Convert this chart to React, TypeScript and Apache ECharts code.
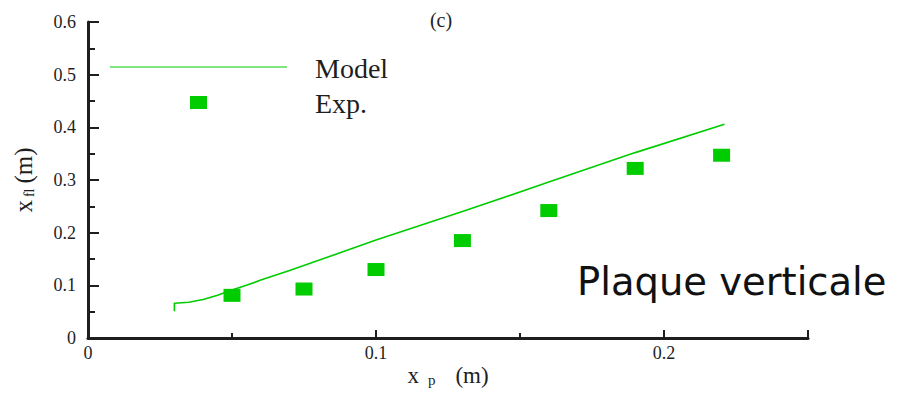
import React, { useEffect, useRef } from "react";
import * as echarts from "echarts";

// Model curve (x_p, x_fl) in metres
const modelX = [0.03, 0.03, 0.035, 0.04, 0.045, 0.05, 0.055, 0.06, 0.07, 0.1, 0.13, 0.16, 0.19, 0.221];
const modelY = [0.051, 0.066, 0.068, 0.073, 0.081, 0.091, 0.100, 0.110, 0.128, 0.186, 0.240, 0.296, 0.352, 0.406];
// Experimental points
const expX = [0.05, 0.075, 0.1, 0.13, 0.16, 0.19, 0.22];
const expY = [0.081, 0.093, 0.130, 0.185, 0.242, 0.322, 0.347];

const seriesNames = ["Model", "Exp."];
const panelLabel = "(c)";
const annotation = "Plaque verticale";

const GREEN = "#00cc00";
const INK = "#1e1e1e";
const SERIF = "Liberation Serif";

export default function App() {
  const ref = useRef<HTMLDivElement>(null);
  useEffect(() => {
    if (!ref.current) return;
    const chart = echarts.init(ref.current, undefined, { renderer: "svg" });
    const axisCommon = {
      type: "value" as const,
      axisLine: { show: true, lineStyle: { color: INK, width: 3 } },
      splitLine: { show: false },
    };
    chart.setOption({
      animation: false,
      backgroundColor: "#fff",
      textStyle: { fontFamily: SERIF },
      grid: { left: 88, right: 98, top: 22, bottom: 59 },
      xAxis: {
        ...axisCommon,
        min: 0,
        max: 0.25,
        interval: 0.1,
        axisTick: { inside: true, length: 8, lineStyle: { color: INK, width: 2 } },
        minorTick: { show: true, splitNumber: 2, length: 5, lineStyle: { color: INK, width: 2 } },
        axisLabel: {
          showMaxLabel: false,
          margin: 6,
          color: INK,
          fontFamily: SERIF,
          fontSize: 18,
        },
        name: "{m|x}{s|p}{m|(m)}",
        nameLocation: "middle",
        nameMoveOverlap: false,
        nameGap: 26,
        nameTextStyle: {
          rich: {
            m: { fontFamily: SERIF, fontSize: 23, color: INK, verticalAlign: "top", lineHeight: 23 },
            s: { fontFamily: SERIF, fontSize: 15, color: INK, verticalAlign: "bottom", lineHeight: 15, padding: [12, 20, 0, 9] },
          },
        },
      },
      yAxis: {
        ...axisCommon,
        min: 0,
        max: 0.6,
        interval: 0.1,
        axisTick: { inside: true, length: 11, lineStyle: { color: INK, width: 2 } },
        minorTick: { show: true, splitNumber: 2, length: 7, lineStyle: { color: INK, width: 2 } },
        axisLabel: {
          margin: 12,
          color: INK,
          fontFamily: SERIF,
          fontSize: 18,
        },
        name: "{m|x}{s|fl}{m|(m)}",
        nameLocation: "middle",
        nameMoveOverlap: false,
        nameGap: 52,
        nameTextStyle: {
          rich: {
            m: { fontFamily: SERIF, fontSize: 25, color: INK, verticalAlign: "top", lineHeight: 25 },
            s: { fontFamily: SERIF, fontSize: 14, color: INK, verticalAlign: "bottom", lineHeight: 14, padding: [12, 5, 0, 3] },
          },
        },
      },
      series: [
        {
          name: seriesNames[0],
          type: "line",
          data: modelX.map((x, i) => [x, modelY[i]]),
          showSymbol: false,
          lineStyle: { color: GREEN, width: 1.6 },
          itemStyle: { color: GREEN },
          z: 3,
        },
        {
          name: seriesNames[1],
          type: "scatter",
          data: expX.map((x, i) => [x, expY[i]]),
          symbol: "rect",
          symbolSize: [17, 13],
          itemStyle: { color: GREEN, opacity: 1 },
          z: 4,
        },
      ],
      graphic: [
        {
          type: "text",
          x: 441,
          y: 20,
          style: { text: panelLabel, fontFamily: SERIF, fontSize: 20, fill: INK, align: "center", verticalAlign: "middle" },
        },
        {
          type: "line",
          shape: { x1: 110, y1: 67, x2: 287, y2: 67 },
          style: { stroke: GREEN, lineWidth: 1 },
        },
        {
          type: "text",
          x: 315,
          y: 68,
          style: { text: seriesNames[0], fontFamily: SERIF, fontSize: 28, fill: INK, verticalAlign: "middle" },
        },
        {
          type: "rect",
          shape: { x: 190, y: 96, width: 17, height: 13 },
          style: { fill: GREEN },
        },
        {
          type: "text",
          x: 315,
          y: 103,
          style: { text: seriesNames[1], fontFamily: SERIF, fontSize: 28, fill: INK, verticalAlign: "middle" },
        },
        {
          type: "text",
          x: 577,
          y: 281,
          style: {
            text: annotation,
            fontFamily: "DejaVu Sans",
            fontSize: 38.5,
            fill: "#111",
            verticalAlign: "middle",
          },
        },
      ],
    });
    return () => chart.dispose();
  }, []);
  return (
    <div
      ref={ref}
      style={{ position: "fixed", left: 0, top: 0, width: 906, height: 397, background: "#fff" }}
    />
  );
}
